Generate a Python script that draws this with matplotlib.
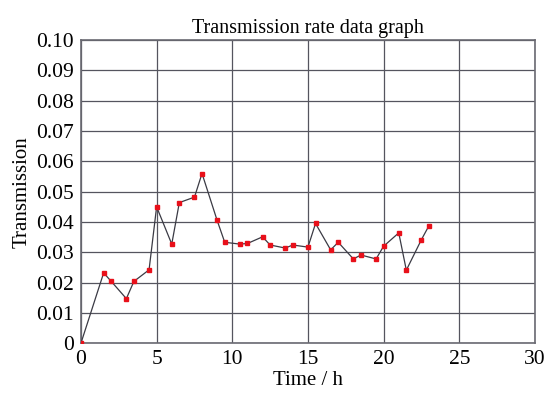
import matplotlib.pyplot as plt

plt.rcParams['font.family'] = ['Liberation Serif', 'DejaVu Serif']

# time (h) and transmission values
hours = [0, 1.5, 2, 3, 3.5, 4.5, 5, 6, 6.5, 7.5, 8, 9, 9.5, 10.5, 11,
         12, 12.5, 13.5, 14, 15, 15.5, 16.5, 17, 18, 18.5, 19.5, 20,
         21, 21.5, 22.5, 23]
transmission = [0.0, 0.0232, 0.0204, 0.0147, 0.0204, 0.0242, 0.0450, 0.0327,
                0.0464, 0.0482, 0.0560, 0.0405, 0.0333, 0.0327, 0.0329,
                0.0351, 0.0324, 0.0314, 0.0324, 0.0317, 0.0395, 0.0308,
                0.0333, 0.0278, 0.0291, 0.0278, 0.0320, 0.0364, 0.0241,
                0.0342, 0.0388]

x_ticks = [0, 5, 10, 15, 20, 25, 30]
y_ticks = [0, 0.01, 0.02, 0.03, 0.04, 0.05, 0.06, 0.07, 0.08, 0.09, 0.10]
y_labels = ['0'] + ['%.2f' % v for v in y_ticks[1:]]

fig = plt.figure(figsize=(5.47, 3.94), dpi=100)
ax = fig.add_axes([0.148, 0.129, 0.83, 0.769])

ax.plot(hours, transmission, color='#3a3a44', linewidth=0.9,
        marker='s', markersize=2.6, markerfacecolor='#e8101a',
        markeredgecolor='#e8101a', zorder=3)

ax.set_xlim(0, 30)
ax.set_ylim(0, 0.10)
ax.set_xticks(x_ticks)
ax.set_yticks(y_ticks)
ax.set_yticklabels(y_labels)
ax.tick_params(length=0, labelsize=15.5, pad=5)
ax.grid(True, color='#55555f', linewidth=0.9)
for s in ax.spines.values():
    s.set_color('#6a6a72')
    s.set_linewidth(1.2)

ax.set_title('Transmission rate data graph', fontsize=14.5, pad=5)
ax.set_xlabel('Time / h', fontsize=15, labelpad=1)
ax.set_ylabel('Transmission', fontsize=15, labelpad=3)

fig.savefig('out.png', dpi=100)
